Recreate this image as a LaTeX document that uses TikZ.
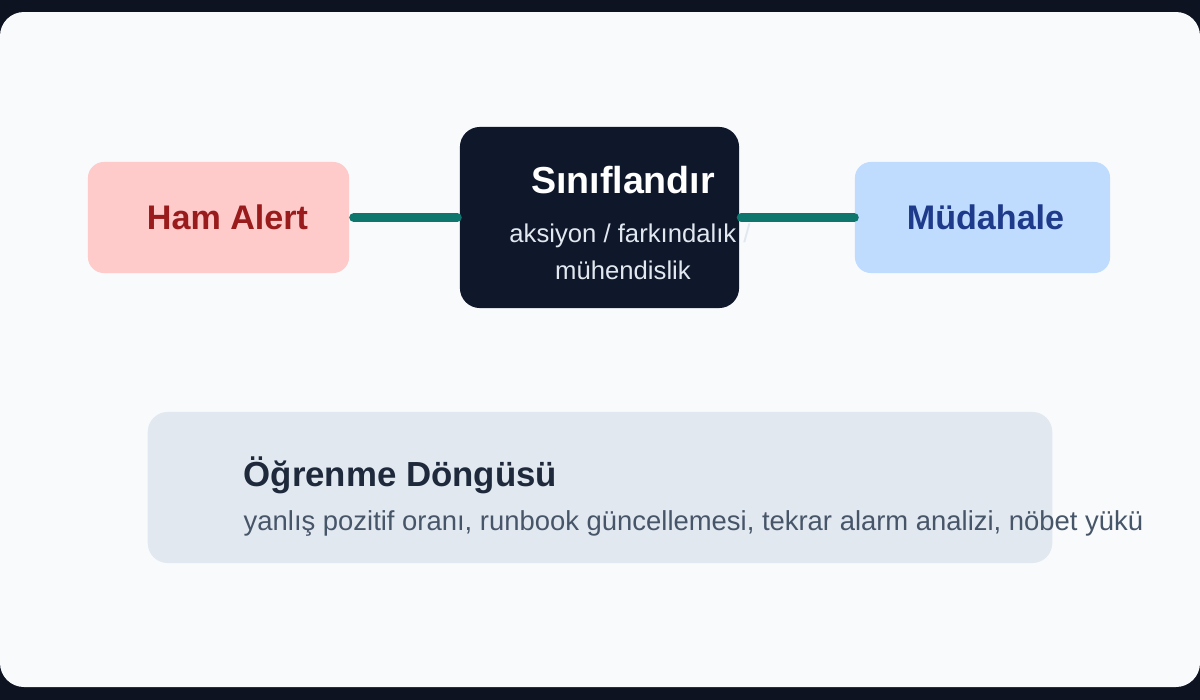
\documentclass[tikz,border=0pt]{standalone}
\usepackage{fontspec}
\setmainfont{Liberation Sans}
\usepackage{tikz}
\definecolor{frame}{HTML}{0E1321}
\definecolor{panel}{HTML}{F8FAFC}
\definecolor{hamfill}{HTML}{FECACA}
\definecolor{hamtext}{HTML}{991B1B}
\definecolor{sinfill}{HTML}{0F172A}
\definecolor{sinsub}{HTML}{E2E8F0}
\definecolor{mudfill}{HTML}{BFDBFE}
\definecolor{mudtext}{HTML}{1E3A8A}
\definecolor{learnfill}{HTML}{E2E8F0}
\definecolor{learntitle}{HTML}{1E293B}
\definecolor{learnsub}{HTML}{475569}
\definecolor{link}{HTML}{0F766E}
\newcommand{\fsz}[1]{\fontsize{#1pt}{#1pt}\selectfont}

\begin{document}
\begin{tikzpicture}[x=0.01cm, y=-0.01cm]
		\tikzstyle{box}=[rounded corners=0.16cm, draw=none, inner sep=0pt]
		\tikzstyle{txt}=[inner sep=0pt]
		\tikzstyle{link}=[line width=2.6pt, color=link, line cap=round]
		% Background
		\fill[frame] (0,0) rectangle (1200,700);
		\fill[panel, rounded corners=0.24cm] (0,12) rectangle (1200,687);
		\useasboundingbox (0,0) rectangle (1200,700);
		
		% Boxes
		\node[box, fill=hamfill, minimum width=2.61cm, minimum height=1.11cm] (ham) at (218.5,217.5){};
		\node[box, fill=sinfill, minimum width=2.79cm, minimum height=1.81cm, rounded corners=0.2cm] (sinif) at (599.5,217.5){};
		\node[box, fill=mudfill, minimum width=2.55cm, minimum height=1.11cm] (mud) at (982.5,217.5){};
		\draw{
			(227.5,217.5)node[txt, text=hamtext]{\fsz{9.7}\bfseries Ham Alert}
			(985.5,217.5)node[txt, text=mudtext]{\fsz{9.7}\bfseries Müdahale}
			(623,180)node[txt, text=white]{\fsz{10.7}\bfseries Sınıflandır}
			(630,236)node[txt, text=sinsub]{\fsz{7.3}aksiyon / farkındalık /}
			(623,270)node[txt, text=sinsub]{\fsz{7.3}mühendislik}
		};
		
		%Connectors
		\draw[link] ([xshift=0.04cm]ham.east) -- ([xshift=-0.02cm]sinif.west);
		\draw[link] ([xshift=0.015cm]sinif.east) -- (mud.west);
		
		% Learning loop
		\node[box, fill=learnfill, minimum width=9.04cm, minimum height=1.51cm, rounded corners=0.2cm] (learn) at (600,487.5){};
		\draw{
			(243,486)node[txt, anchor=base west, text=learntitle]{\fsz{9.9}\bfseries Öğrenme Döngüsü}
			(243,530)node[txt, anchor=base west, text=learnsub]{\fsz{7.8}yanlış pozitif oranı, runbook güncellemesi, tekrar alarm analizi, nöbet yükü}
		};
	\end{tikzpicture}
\end{document}
